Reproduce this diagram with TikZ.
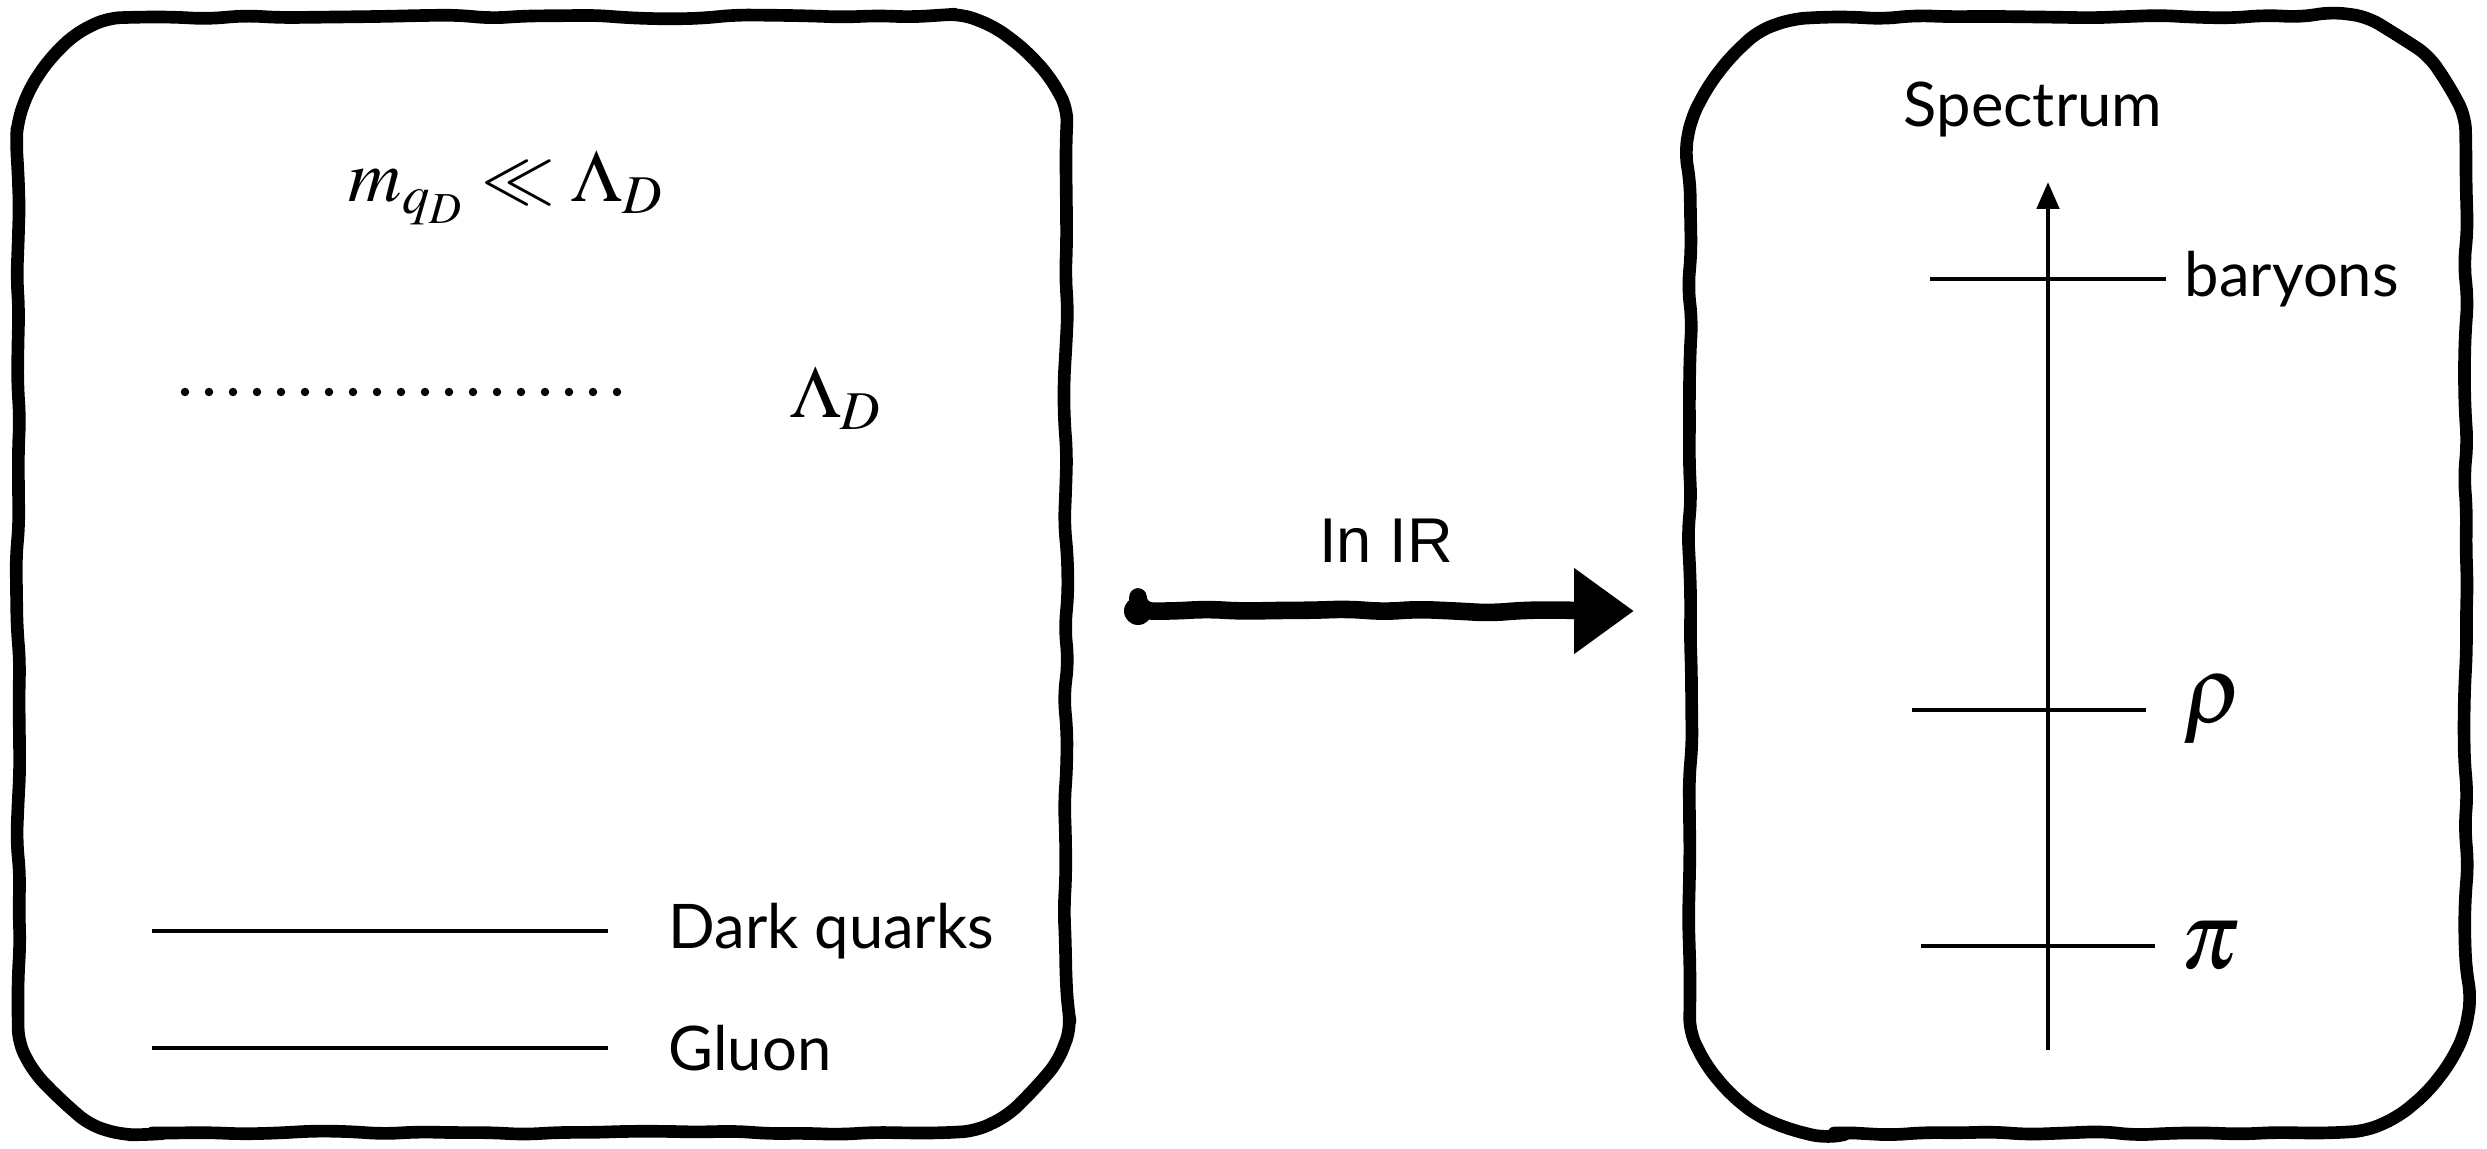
\documentclass[tikz,border=0pt]{standalone}
\usepackage{mathptmx}
\usepackage[no-math]{fontspec}
\setmainfont{Lato}
\newfontfamily\helvfont{Liberation Sans}
\usetikzlibrary{arrows.meta,positioning,decorations.pathmorphing}

\begin{document}
\begin{tikzpicture}[>=Latex,
  sketch/.style={line width=3.6pt,line join=round,line cap=round,rounded corners=4pt,
    decorate,decoration={random steps,segment length=10pt,amplitude=0.6pt}},
  level/.style={line width=1.4pt},
  lbl/.style={font=\fontsize{17.5}{20}\selectfont,inner sep=0pt},
  mlbl/.style={font=\fontsize{21}{24}\selectfont,inner sep=0pt},
  hlbl/.style={font=\fontsize{27}{30}\selectfont,inner sep=0pt}]
  \useasboundingbox (0,0) rectangle (24.87,11.48);
  \pgfmathsetseed{7}
  % the two panels
  \draw[sketch] (1.58,0.15) -- (9.26,0.15) arc[start angle=-90,end angle=0,radius=1.4]
    -- (10.66,9.91) arc[start angle=0,end angle=90,radius=1.4]
    -- (1.58,11.31) arc[start angle=90,end angle=180,radius=1.4]
    -- (0.18,1.55) arc[start angle=180,end angle=270,radius=1.4] -- cycle;
  \draw[sketch] (18.4,0.15) -- (23.16,0.15) arc[start angle=-90,end angle=0,radius=1.5]
    -- (24.66,9.81) arc[start angle=0,end angle=90,radius=1.5]
    -- (18.4,11.31) arc[start angle=90,end angle=180,radius=1.5]
    -- (16.9,1.65) arc[start angle=180,end angle=270,radius=1.5] -- cycle;
  % UV side
  \node[mlbl,anchor=base] (cond) at (5.06,9.46) {$m_{q_D}\ll\Lambda_D$};
  \coordinate (dotL) at (1.85,7.56);
  \coordinate (dotR) at (6.19,7.56);
  \draw[line width=0.085cm,line cap=round,dash pattern=on 0pt off 0.24cm] (dotL) -- (dotR);
  \node[mlbl,anchor=base] (scale) at (8.36,7.30) {$\Lambda_D$};
  \coordinate (dqL) at (1.52,2.17);
  \coordinate (dqR) at (6.08,2.17);
  \coordinate (glL) at (1.52,1.00);
  \coordinate (glR) at (6.08,1.00);
  \draw[level] (dqL) -- (dqR);
  \draw[level] (glL) -- (glR);
  \node[lbl,right=0.6cm of dqR] (dq) {Dark quarks};
  \node[lbl,right=0.6cm of glR] (gl) {Gluon};
  % flow to the IR
  \coordinate (uvR) at (11.38,5.37);
  \coordinate (irL) at (16.34,5.37);
  \fill (uvR) circle (0.14);
  \draw[sketch,line width=5pt,-{Triangle[length=0.6cm,width=0.82cm]},
    decoration={random steps,segment length=10pt,amplitude=0.6pt,post=lineto,post length=10pt}]
    (uvR) -- node[above=0.4cm,inner sep=0pt,font=\helvfont\fontsize{18}{20}\selectfont]{In IR} (irL);
  % IR spectrum
  \node[lbl,anchor=base] (spec) at (20.33,10.21) {Spectrum};
  \coordinate (axB) at (20.48,0.98);
  \coordinate (axT) at (20.48,9.66);
  \draw[level,-{Triangle[length=0.27cm,width=0.22cm]}] (axB) -- (axT);
  \coordinate (baL) at (19.30,8.69);
  \coordinate (baR) at (21.66,8.69);
  \coordinate (rhL) at (19.12,4.38);
  \coordinate (rhR) at (21.46,4.38);
  \coordinate (piL) at (19.21,2.02);
  \coordinate (piR) at (21.55,2.02);
  \draw[level] (baL) -- (baR);
  \draw[level] (rhL) -- (rhR);
  \draw[level] (piL) -- (piR);
  \node[lbl,right=0.18cm of baR] (bar) {baryons};
  \node[hlbl,right=0.37cm of rhR] (rho) {$\rho$};
  \node[hlbl,right=0.25cm of piR] (pion) {$\pi$};
\end{tikzpicture}
\end{document}
